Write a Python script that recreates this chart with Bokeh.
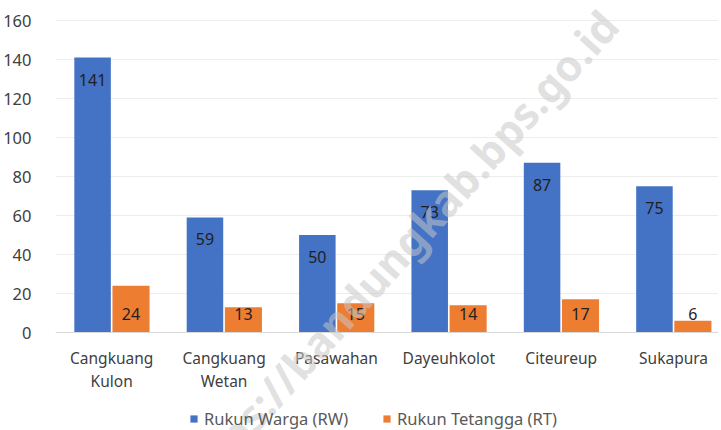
from bokeh.plotting import figure
from bokeh.models import (ColumnDataSource, Range1d, FixedTicker, Legend, LegendItem,
                          Label, Span)
from bokeh.transform import dodge
from bokeh.embed import file_html
from bokeh.resources import INLINE
from bokeh.core.properties import value

categories = ["Cangkuang\nKulon", "Cangkuang\nWetan", "Pasawahan", "Dayeuhkolot", "Citeureup", "Sukapura"]
rw_values = [141, 59, 50, 73, 87, 75]
rt_values = [24, 13, 15, 14, 17, 6]
series_names = ["Rukun Warga (RW)", "Rukun Tetangga (RT)"]
y_ticks = [0, 20, 40, 60, 80, 100, 120, 140, 160]

FONT = "Noto Sans"
BLUE = "#4472C4"
ORANGE = "#ED7D31"

xs = [i + 0.5 for i in range(len(categories))]
PX_PER_UNIT = 312 / 160.0


def label_pos(vals):
    ys, offs = [], []
    for v in vals:
        if v * PX_PER_UNIT - 22 > 19 + 8:
            ys.append(v)
            offs.append(22)
        else:
            ys.append(0)
            offs.append(-19)
    return ys, offs


rw_ly, rw_off = label_pos(rw_values)
rt_ly, rt_off = label_pos(rt_values)

src = ColumnDataSource(dict(
    x=xs, cat=categories, rw=rw_values, rt=rt_values,
    rw_txt=[str(v) for v in rw_values], rt_txt=[str(v) for v in rt_values],
    rw_ly=rw_ly, rw_off=rw_off, rt_ly=rt_ly, rt_off=rt_off,
))

# frame spans the whole height so the legend and watermark are not clipped
below_px = 98
above_px = 20
p = figure(frame_width=663, frame_height=312 + below_px + above_px, output_backend="svg",
           toolbar_location=None,
           x_range=Range1d(0, 5.9),
           y_range=Range1d(-below_px / PX_PER_UNIT, 160 + above_px / PX_PER_UNIT),
           x_axis_location=None,
           min_border_top=0, min_border_left=54, min_border_right=0, min_border_bottom=0)
p.outline_line_color = None
p.background_fill_color = "white"
p.border_fill_color = "white"

p.ygrid.ticker = FixedTicker(ticks=y_ticks)
p.ygrid.grid_line_color = "#EDEDED"
p.xgrid.grid_line_color = None

p.yaxis.ticker = FixedTicker(ticks=y_ticks)
p.yaxis.axis_line_color = None
p.yaxis.major_tick_line_color = None
p.yaxis.minor_tick_line_color = None
p.yaxis.major_label_text_font = FONT
p.yaxis.major_label_text_font_size = "16.5px"
p.yaxis.major_label_text_color = "#404040"
p.yaxis.major_label_standoff = 18

p.add_layout(Span(location=0, dimension="width", line_color="#D9D9D9", line_width=1))

r1 = p.vbar(x=dodge("x", -0.17, range=p.x_range), top="rw", width=0.325, source=src,
            fill_color=BLUE, line_color=None)
r2 = p.vbar(x=dodge("x", 0.172, range=p.x_range), top="rt", width=0.33, source=src,
            fill_color=ORANGE, line_color=None)

p.text(x=dodge("x", -0.17, range=p.x_range), y="rw_ly", text="rw_txt", y_offset="rw_off",
       source=src, text_align="center", text_baseline="middle",
       text_font=value(FONT), text_font_size="16px", text_color="#1F1F1F")
p.text(x=dodge("x", 0.172, range=p.x_range), y="rt_ly", text="rt_txt", y_offset="rt_off",
       source=src, text_align="center", text_baseline="middle",
       text_font=value(FONT), text_font_size="16px", text_color="#1F1F1F")

# category labels under the baseline
p.text(x="x", y=0, text="cat", y_offset=14, source=src, text_align="center",
       text_baseline="top", text_line_height=1.05,
       text_font=value(FONT), text_font_size="15.5px", text_color="#404040")

wm = Label(x=587, y=-3, x_units="canvas", y_units="canvas",
           text="https://bandungkab.bps.go.id", angle=48, angle_units="deg",
           text_align="right", text_baseline="top", text_font=FONT, text_font_size="43px",
           text_font_style="bold", text_color="#C8C8C8", text_alpha=0.55, level="overlay")
p.add_layout(wm)

legend = Legend(items=[LegendItem(label=series_names[0], renderers=[r1]),
                       LegendItem(label=series_names[1], renderers=[r2])],
                orientation="horizontal", location=(134, 0),
                label_text_font=FONT, label_text_font_size="16.5px", label_text_color="#595959",
                glyph_width=9, glyph_height=9, label_standoff=6, spacing=34,
                padding=0, margin=0, border_line_color=None, background_fill_alpha=0)
p.add_layout(legend)

open("out.html", "w").write(file_html(p, INLINE))
